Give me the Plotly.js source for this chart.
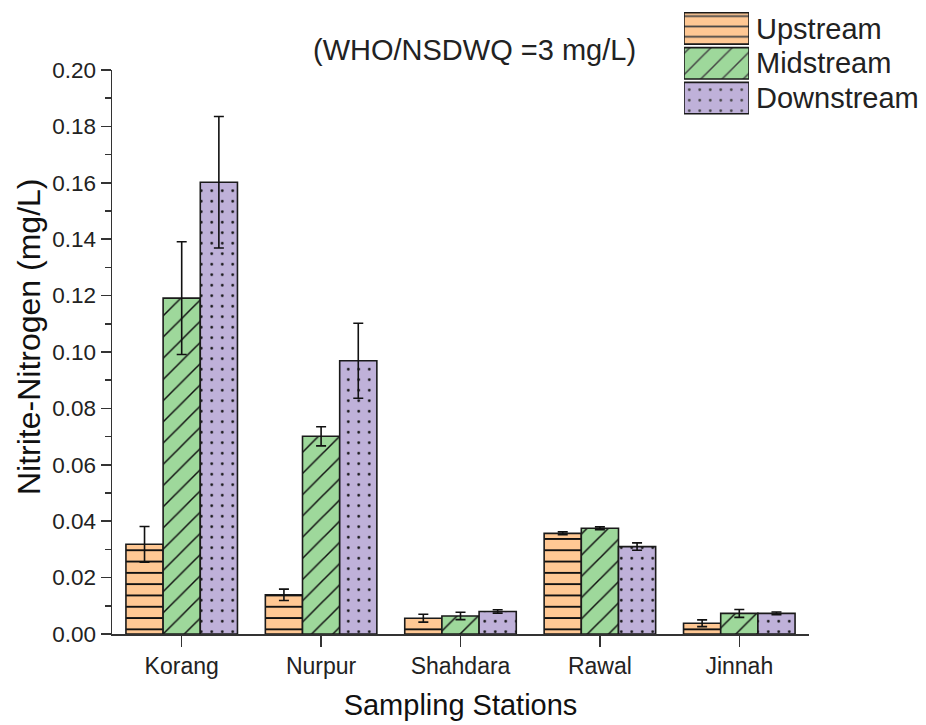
<!DOCTYPE html>
<html>
<head>
<meta charset="utf-8">
<script src="https://cdn.plot.ly/plotly-3.0.1.min.js"></script>
<style>html,body{margin:0;padding:0;background:#fff;}#chart{width:926px;height:725px;}</style>
</head>
<body>
<div id="chart"></div>
<script>
// ---- data ----
const stations = ["Korang", "Nurpur", "Shahdara", "Rawal", "Jinnah"];
const seriesNames = ["Upstream", "Midstream", "Downstream"];
const upstream = [0.0318, 0.0139, 0.0056, 0.0357, 0.0038];
const upstreamErr = [0.0063, 0.0020, 0.0014, 0.0005, 0.0012];
const midstream = [0.1191, 0.0701, 0.0064, 0.0375, 0.0073];
const midstreamErr = [0.0200, 0.0034, 0.0013, 0.0005, 0.0014];
const downstream = [0.1602, 0.0969, 0.0080, 0.0310, 0.0073];
const downstreamErr = [0.0233, 0.0133, 0.0006, 0.0013, 0.0005];
const yTicks = [0, 0.02, 0.04, 0.06, 0.08, 0.10, 0.12, 0.14, 0.16, 0.18, 0.20];

// ---- styles ----
const FONT = "Liberation Sans, Arial, sans-serif";
const TXT = "#222";
const fills = ["#FFC894", "#9ED89B", "#BFB1D9"];
const shapes = ["-", "/", "."];
const psizes = [11.3, 15, 10.5];
const psol = [0.17, 0.1, 0.05];
const vals = [upstream, midstream, downstream];
const errs = [upstreamErr, midstreamErr, downstreamErr];

const traces = seriesNames.map((name, i) => ({
  type: "bar",
  name: name,
  x: stations,
  y: vals[i],
  xaxis: "x",
  yaxis: "y",
  showlegend: false,
  marker: {
    color: fills[i],
    line: {color: "#1a1a1a", width: 1.6},
    pattern: {shape: shapes[i], fgcolor: "#111", fgopacity: 1, bgcolor: fills[i], fillmode: "overlay", size: psizes[i], solidity: psol[i]}
  },
  error_y: {type: "data", array: errs[i], visible: true, color: "#111", thickness: 1.6, width: 5},
  hoverinfo: "x+y+name"
}));

// custom legend built from series names (large swatches)
traces.push({
  type: "bar",
  orientation: "h",
  y: seriesNames,
  x: seriesNames.map(() => 1),
  xaxis: "x2",
  yaxis: "y2",
  width: 0.9,
  showlegend: false,
  hoverinfo: "skip",
  marker: {
    color: fills,
    line: {color: "#1a1a1a", width: 1.6},
    pattern: {shape: shapes, fgcolor: "#111", fgopacity: 1, bgcolor: fills, fillmode: "overlay", size: [10.3, 15, 10.5], solidity: [0.17, 0.1, 0.05]}
  }
});

const W = 926, H = 725;
const boundaries = [];
for (let k = 0; k <= stations.length; k++) boundaries.push(k - 0.5);

const layout = {
  width: W, height: H,
  margin: {l: 0, r: 0, t: 0, b: 0},
  paper_bgcolor: "#fff",
  plot_bgcolor: "rgba(0,0,0,0)",
  font: {family: FONT, color: TXT, size: 23},
  barmode: "group",
  bargap: 0.2,
  bargroupgap: 0,
  showlegend: false,
  xaxis: {
    domain: [112 / W, 809 / W],
    anchor: "y",
    type: "category",
    range: [-0.5, stations.length - 0.5],
    tickmode: "array",
    tickvals: stations,
    showline: true, linecolor: "#333", linewidth: 1.5,
    ticks: "outside", ticklen: 11, tickwidth: 1.5, tickcolor: "#333",
    showgrid: false, zeroline: false,
    tickfont: {family: FONT, size: 23, color: TXT},
    title: {text: "Sampling Stations", font: {family: FONT, size: 29, color: "#111"}, standoff: 16}
  },
  xaxis3: {
    overlaying: "x",
    anchor: "y",
    side: "bottom",
    range: [-0.5, stations.length - 0.5],
    tickvals: boundaries,
    ticks: "outside", ticklen: 5, tickwidth: 1.5, tickcolor: "#333",
    showticklabels: false, showline: false, showgrid: false, zeroline: false
  },
  yaxis: {
    domain: [91 / H, 655 / H],
    anchor: "x",
    range: [0, 0.2],
    tickvals: yTicks,
    tickformat: ".2f",
    showline: true, linecolor: "#333", linewidth: 1.5,
    ticks: "outside", ticklen: 10, tickwidth: 1.5, tickcolor: "#333",
    minor: {dtick: 0.01, ticks: "outside", ticklen: 6, tickwidth: 1.5, tickcolor: "#333", showgrid: false},
    showgrid: false, zeroline: false,
    tickfont: {family: FONT, size: 22.5, color: TXT}
  },
  xaxis2: {
    domain: [684 / W, 749 / W],
    anchor: "y2",
    range: [0, 1],
    visible: false,
    fixedrange: true
  },
  yaxis2: {
    domain: [(H - 115.5) / H, (H - 11) / H],
    anchor: "x2",
    type: "category",
    autorange: "reversed",
    tickmode: "array",
    tickvals: seriesNames,
    ticktext: seriesNames,
    side: "right",
    showline: false, showgrid: false, zeroline: false,
    ticks: "",
    ticklabelstandoff: 6,
    tickfont: {family: FONT, size: 29, color: TXT},
    fixedrange: true
  },
  annotations: [{
    text: "(WHO/NSDWQ =3 mg/L)",
    xref: "paper", yref: "paper",
    x: 475 / W, y: (H - 50) / H,
    xanchor: "center", yanchor: "middle",
    showarrow: false,
    font: {family: FONT, size: 29, color: TXT}
  }, {
    text: "Nitrite-Nitrogen (mg/L)",
    xref: "paper", yref: "paper",
    x: 29 / W, y: (H - 337) / H,
    xanchor: "center", yanchor: "middle",
    textangle: -90,
    showarrow: false,
    font: {family: FONT, size: 32, color: "#111"}
  }]
};

Plotly.newPlot("chart", traces, layout, {displayModeBar: false, staticPlot: true});
</script>
</body>
</html>
